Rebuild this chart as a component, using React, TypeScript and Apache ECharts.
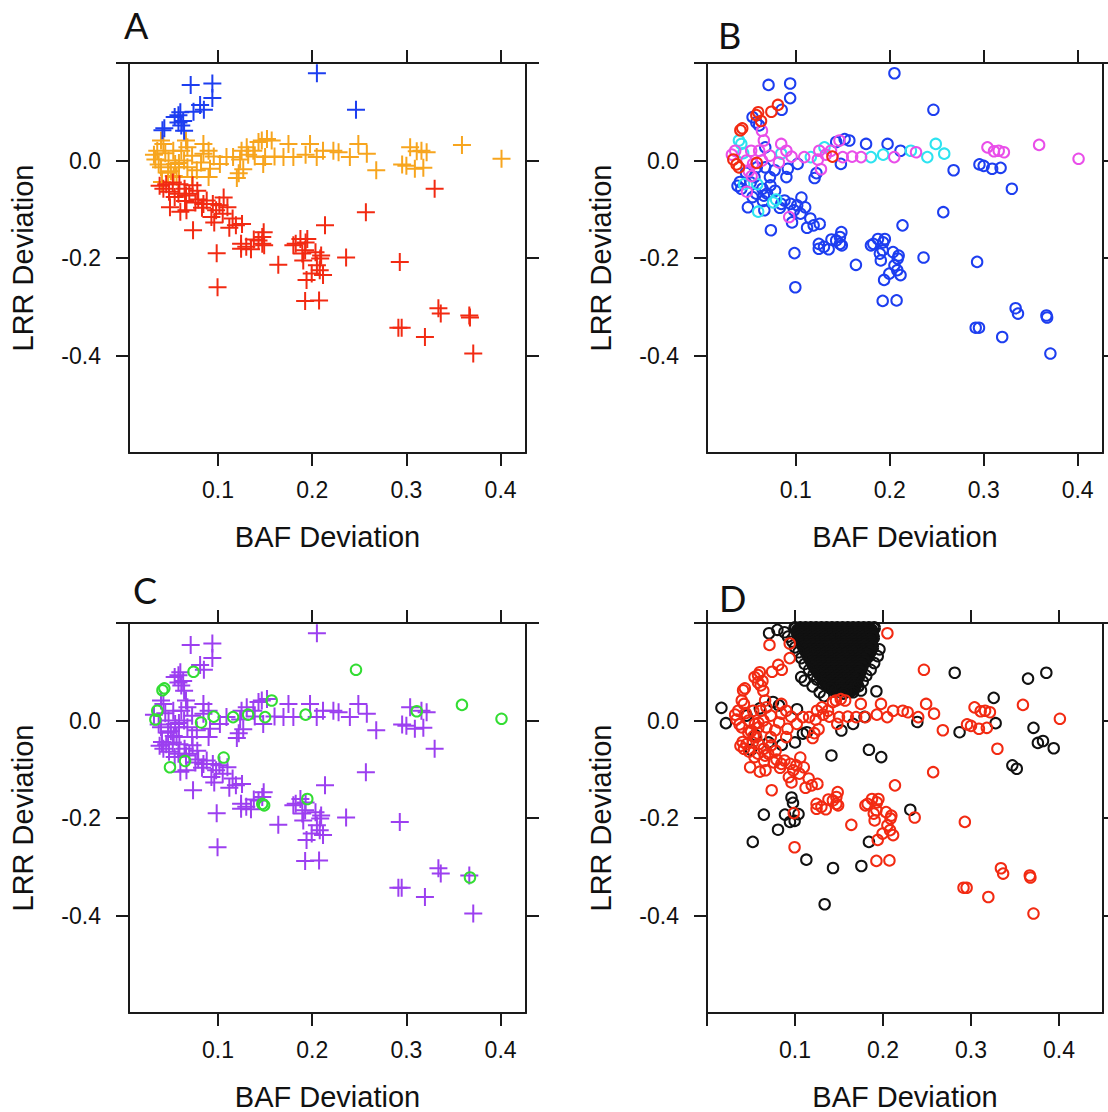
import React, { useEffect, useRef } from "react";
import * as echarts from "echarts";

// Each point: [BAF deviation, LRR deviation, panel-B class, panel-C class]
// Panel A groups: gain (blue), neutral (orange), loss (red)
const gainPoints: [number, number, string, string][] = [
  [0.205, 0.179, "b", "p"], [0.2465, 0.104, "b", "g"], [0.071, 0.155, "b", "p"],
  [0.094, 0.158, "b", "p"], [0.094, 0.128, "b", "p"], [0.081, 0.114, "r", "p"],
  [0.085, 0.104, "b", "p"], [0.074, 0.1, "r", "g"], [0.06, 0.099, "r", "p"],
  [0.058, 0.093, "r", "p"], [0.063, 0.081, "r", "p"], [0.061, 0.072, "b", "p"],
  [0.064, 0.061, "m", "p"], [0.043, 0.066, "r", "g"], [0.041, 0.062, "r", "g"],
  [0.054, 0.089, "b", "p"], [0.058, 0.078, "b", "p"],
];

const neutralPoints: [number, number, string, string][] = [
  [0.401, 0.0035, "m", "g"], [0.359, 0.032, "m", "g"], [0.3215, 0.017, "m", "p"],
  [0.316, 0.02, "m", "p"], [0.311, 0.019, "m", "g"], [0.304, 0.027, "m", "p"],
  [0.309, -0.017, "b", "p"], [0.3, -0.011, "b", "p"], [0.2955, -0.008, "b", "p"],
  [0.318, -0.015, "b", "p"], [0.268, -0.02, "b", "p"], [0.258, 0.014, "c", "p"],
  [0.249, 0.034, "c", "p"], [0.24, 0.007, "c", "p"], [0.228, 0.017, "m", "p"],
  [0.2225, 0.02, "c", "p"], [0.2115, 0.02, "b", "p"], [0.2048, 0.007, "m", "p"],
  [0.1977, 0.034, "b", "p"], [0.193, 0.012, "c", "g"], [0.18, 0.007, "c", "p"],
  [0.1748, 0.034, "b", "p"], [0.1695, 0.007, "m", "p"], [0.16, 0.008, "m", "p"],
  [0.157, 0.041, "b", "g"], [0.152, 0.044, "b", "p"], [0.1465, 0.041, "m", "p"],
  [0.143, 0.038, "b", "p"], [0.15, 0.007, "m", "g"], [0.148, -0.007, "b", "p"],
  [0.139, 0.008, "r", "p"], [0.1375, 0.02, "m", "p"], [0.1305, 0.027, "c", "p"],
  [0.132, 0.012, "m", "g"], [0.125, 0.02, "m", "p"], [0.1235, 0.002, "m", "p"],
  [0.116, 0.007, "c", "g"], [0.1268, -0.018, "m", "p"], [0.122, -0.026, "b", "p"],
  [0.12, -0.036, "b", "p"], [0.109, 0.007, "m", "p"], [0.0955, 0.008, "m", "g"],
  [0.09, 0.02, "m", "p"], [0.0845, 0.034, "m", "p"], [0.0845, 0.014, "c", "p"],
  [0.082, -0.004, "m", "g"], [0.0775, -0.02, "b", "p"], [0.09, -0.034, "b", "p"],
  [0.0725, 0.01, "m", "p"], [0.0675, 0.027, "b", "p"], [0.066, 0.041, "m", "p"],
  [0.061, 0.02, "m", "p"], [0.0585, -0.005, "r", "p"], [0.0545, -0.007, "m", "p"],
  [0.05, -0.022, "m", "p"], [0.053, -0.032, "m", "p"], [0.0405, -0.044, "b", "p"],
  [0.0355, 0.02, "m", "g"], [0.0335, 0.002, "r", "g"], [0.037, -0.008, "r", "p"],
  [0.042, 0.034, "c", "p"], [0.0395, 0.041, "c", "p"], [0.044, 0.015, "c", "p"],
  [0.0475, 0.0, "m", "p"], [0.0395, -0.014, "r", "p"], [0.056, -0.034, "b", "p"],
  [0.0675, -0.014, "b", "p"], [0.064, 0.0, "m", "p"], [0.0725, -0.034, "b", "p"],
  [0.0915, -0.017, "b", "p"], [0.102, -0.007, "b", "p"], [0.032, 0.012, "m", "p"],
  [0.0525, 0.02, "m", "p"], [0.0585, -0.014, "b", "p"], [0.047, -0.025, "b", "p"],
];

const lossPoints: [number, number, string, string][] = [
  [0.33, -0.058, "b", "p"], [0.257, -0.106, "b", "p"], [0.2136, -0.133, "b", "p"],
  [0.293, -0.208, "b", "p"], [0.236, -0.199, "b", "p"], [0.0986, -0.19, "b", "p"],
  [0.0735, -0.143, "b", "p"], [0.042, -0.058, "b", "p"], [0.048, -0.064, "m", "p"],
  [0.054, -0.075, "b", "p"], [0.058, -0.068, "b", "p"], [0.0645, -0.058, "b", "p"],
  [0.0695, -0.068, "b", "p"], [0.073, -0.051, "b", "p"], [0.078, -0.062, "b", "p"],
  [0.079, -0.08, "c", "p"], [0.076, -0.086, "c", "p"], [0.0845, -0.089, "b", "p"],
  [0.088, -0.082, "b", "p"], [0.0945, -0.089, "b", "p"], [0.098, -0.102, "b", "p"],
  [0.1015, -0.092, "b", "p"], [0.106, -0.076, "b", "g"], [0.105, -0.109, "b", "p"],
  [0.093, -0.116, "m", "p"], [0.096, -0.127, "b", "p"], [0.049, -0.096, "b", "g"],
  [0.06, -0.105, "c", "p"], [0.0665, -0.102, "b", "p"], [0.045, -0.0485, "c", "p"],
  [0.059, -0.0485, "c", "p"], [0.065, -0.083, "b", "g"], [0.1155, -0.119, "b", "p"],
  [0.119, -0.133, "b", "p"], [0.1255, -0.13, "b", "p"], [0.1485, -0.147, "b", "p"],
  [0.147, -0.171, "b", "g"], [0.149, -0.174, "b", "g"], [0.143, -0.164, "b", "p"],
  [0.1245, -0.171, "b", "p"], [0.1245, -0.181, "b", "p"], [0.13, -0.177, "b", "p"],
  [0.147, -0.157, "b", "p"], [0.164, -0.214, "b", "p"], [0.1825, -0.171, "b", "p"],
  [0.1875, -0.161, "b", "p"], [0.193, -0.168, "b", "p"], [0.1948, -0.161, "b", "g"],
  [0.18, -0.174, "b", "p"], [0.2035, -0.188, "b", "p"], [0.2085, -0.201, "b", "p"],
  [0.1895, -0.191, "b", "p"], [0.205, -0.215, "b", "p"], [0.1925, -0.184, "b", "p"],
  [0.1905, -0.205, "b", "p"], [0.194, -0.245, "b", "p"], [0.1925, -0.288, "b", "p"],
  [0.2073, -0.287, "b", "p"], [0.208, -0.225, "b", "p"], [0.2115, -0.235, "b", "p"],
  [0.2095, -0.195, "b", "p"], [0.1995, -0.232, "b", "p"], [0.0995, -0.26, "b", "p"],
  [0.334, -0.303, "b", "p"], [0.3365, -0.314, "b", "p"], [0.2915, -0.343, "b", "p"],
  [0.295, -0.343, "b", "p"], [0.3197, -0.362, "b", "p"], [0.3668, -0.318, "b", "p"],
  [0.3675, -0.322, "b", "g"], [0.371, -0.396, "b", "p"], [0.038, -0.052, "b", "p"],
  [0.052, -0.045, "b", "p"], [0.066, -0.072, "b", "p"], [0.083, -0.097, "b", "p"],
  [0.11, -0.096, "b", "p"], [0.112, -0.138, "b", "p"], [0.138, -0.162, "b", "p"],
  [0.135, -0.182, "b", "p"],
];

// Panel D black (reference) samples: scattered ones
const dBlackScattered: [number, number][] = [
  [0.0164, 0.026], [0.0215, -0.0055], [0.0705, 0.179], [0.075, 0.038], [0.0818, 0.031],
  [0.1023, 0.023], [0.109, -0.027], [0.1135, -0.024], [0.111, 0.082], [0.107, 0.089],
  [0.128, 0.058], [0.1527, -0.0205], [0.166, -0.007], [0.179, 0.0075], [0.1925, 0.06],
  [0.175, 0.0615], [0.1414, -0.0717], [0.184, -0.06], [0.198, -0.075], [0.239, -0.003],
  [0.2815, 0.098], [0.287, -0.024], [0.3258, 0.0465], [0.328, -0.0055], [0.3648, 0.086],
  [0.3856, 0.098], [0.371, -0.015], [0.376, -0.046], [0.3818, -0.042], [0.394, -0.057],
  [0.347, -0.092], [0.352, -0.099], [0.0646, -0.193], [0.096, -0.158], [0.0977, -0.169],
  [0.104, -0.192], [0.231, -0.183], [0.0886, -0.193], [0.0943, -0.208], [0.0996, -0.206],
  [0.0807, -0.224], [0.052, -0.249], [0.1129, -0.2855], [0.1432, -0.3026], [0.1754, -0.2985],
  [0.184, -0.249], [0.1337, -0.377], [0.045, 0.01], [0.055, -0.03], [0.06, 0.025],
  [0.07, -0.045], [0.05, -0.06], [0.085, -0.05], [0.1, -0.045],
  [0.08, 0.186], [0.088, 0.181], [0.092, 0.172], [0.097, 0.162], [0.1, 0.15],
  [0.104, 0.14], [0.107, 0.128], [0.111, 0.116], [0.116, 0.104], [0.121, 0.094],
  [0.125, 0.084], [0.132, 0.075], [0.14, 0.066], [0.196, 0.146], [0.194, 0.132],
  [0.19, 0.118], [0.186, 0.104], [0.181, 0.092], [0.177, 0.08], [0.172, 0.07],
  [0.166, 0.058], [0.155, 0.055], [0.12, 0.07], [0.133, 0.05],
];

// Panel D black dense core: [LRR, list of BAF values]
const dBlackCoreRows: [number, number[]][] = [
  [0.19, [0.1, 0.106, 0.112, 0.118, 0.124, 0.13, 0.136, 0.142, 0.148, 0.154, 0.16, 0.166, 0.172, 0.178, 0.184, 0.19]],
  [0.185, [0.103, 0.109, 0.115, 0.121, 0.127, 0.133, 0.139, 0.145, 0.151, 0.157, 0.163, 0.169, 0.175, 0.181, 0.187]],
  [0.18, [0.103, 0.109, 0.115, 0.121, 0.127, 0.133, 0.139, 0.145, 0.151, 0.157, 0.163, 0.169, 0.175, 0.181, 0.187]],
  [0.175, [0.104, 0.11, 0.116, 0.122, 0.128, 0.134, 0.14, 0.146, 0.152, 0.158, 0.164, 0.17, 0.176, 0.182, 0.188]],
  [0.17, [0.105, 0.111, 0.117, 0.123, 0.129, 0.135, 0.141, 0.147, 0.153, 0.159, 0.165, 0.171, 0.177, 0.183, 0.189]],
  [0.165, [0.107, 0.113, 0.119, 0.125, 0.131, 0.137, 0.143, 0.149, 0.155, 0.161, 0.167, 0.173, 0.179, 0.185]],
  [0.16, [0.108, 0.114, 0.12, 0.126, 0.132, 0.138, 0.144, 0.15, 0.156, 0.162, 0.168, 0.174, 0.18, 0.186]],
  [0.155, [0.109, 0.115, 0.121, 0.127, 0.133, 0.139, 0.145, 0.151, 0.157, 0.163, 0.169, 0.175, 0.181, 0.187]],
  [0.15, [0.11, 0.116, 0.122, 0.128, 0.134, 0.14, 0.146, 0.152, 0.158, 0.164, 0.17, 0.176, 0.182, 0.188]],
  [0.145, [0.112, 0.118, 0.124, 0.13, 0.136, 0.142, 0.148, 0.154, 0.16, 0.166, 0.172, 0.178, 0.184]],
  [0.14, [0.113, 0.119, 0.125, 0.131, 0.137, 0.143, 0.149, 0.155, 0.161, 0.167, 0.173, 0.179, 0.185]],
  [0.135, [0.115, 0.121, 0.127, 0.133, 0.139, 0.145, 0.151, 0.157, 0.163, 0.169, 0.175, 0.181]],
  [0.13, [0.116, 0.122, 0.128, 0.134, 0.14, 0.146, 0.152, 0.158, 0.164, 0.17, 0.176, 0.182]],
  [0.125, [0.118, 0.124, 0.13, 0.136, 0.142, 0.148, 0.154, 0.16, 0.166, 0.172, 0.178]],
  [0.12, [0.119, 0.125, 0.131, 0.137, 0.143, 0.149, 0.155, 0.161, 0.167, 0.173, 0.179]],
  [0.115, [0.121, 0.127, 0.133, 0.139, 0.145, 0.151, 0.157, 0.163, 0.169, 0.175]],
  [0.11, [0.122, 0.128, 0.134, 0.14, 0.146, 0.152, 0.158, 0.164, 0.17, 0.176]],
  [0.105, [0.124, 0.13, 0.136, 0.142, 0.148, 0.154, 0.16, 0.166, 0.172]],
  [0.1, [0.126, 0.132, 0.138, 0.144, 0.15, 0.156, 0.162, 0.168, 0.174]],
  [0.095, [0.128, 0.134, 0.14, 0.146, 0.152, 0.158, 0.164, 0.17]],
  [0.09, [0.13, 0.136, 0.142, 0.148, 0.154, 0.16, 0.166, 0.172]],
  [0.085, [0.132, 0.138, 0.144, 0.15, 0.156, 0.162, 0.168]],
  [0.08, [0.134, 0.14, 0.146, 0.152, 0.158, 0.164, 0.17]],
  [0.075, [0.137, 0.143, 0.149, 0.155, 0.161, 0.167]],
  [0.07, [0.139, 0.145, 0.151, 0.157, 0.163, 0.168]],
  [0.065, [0.143, 0.149, 0.155, 0.161, 0.166]],
  [0.06, [0.146, 0.152, 0.158, 0.163]],
];

const xTicks = [0.1, 0.2, 0.3, 0.4];
const xTicksD = [0, 0.1, 0.2, 0.3, 0.4];
const yTicks = [-0.4, -0.2, 0, 0.2];
const yLabels = [-0.4, -0.2, 0];

const COLORS = {
  blue: "#1d3ef0", orange: "#f7a51e", red: "#f22a12", cyan: "#2de3f0",
  magenta: "#e94ee9", purple: "#9c3ff0", green: "#33dd33", black: "#111111",
};

const FONT = "'Liberation Sans', Arial, Helvetica, sans-serif";
const PLUS = "path://M0,9L18,9M9,0L9,18";
const AXIS_LINE = { color: "#1a1a1a", width: 2 };

const PANELS = [
  { left: 129, top: 63, width: 397, letter: "A", lx: 124, ly: 25 },
  { left: 707, top: 63, width: 396, letter: "B", lx: 718, ly: 35 },
  { left: 129, top: 623, width: 397, letter: "C", lx: 133, ly: 590 },
  { left: 707, top: 623, width: 396, letter: "D", lx: 719, ly: 598 },
];
const PH = 390;

function scatter(data: number[][], panel: number, color: string, plus: boolean, bw = 2) {
  return {
    type: "scatter",
    xAxisIndex: panel * 2,
    yAxisIndex: panel * 2,
    data,
    symbol: plus ? PLUS : "circle",
    symbolSize: plus ? 18 : 10.5,
    itemStyle: { color: "transparent", borderColor: color, borderWidth: bw, opacity: 1 },
    emphasis: { disabled: true },
    silent: true,
  };
}

function xAxes(panel: number, min: number, max: number, ticks: number[]) {
  const base = {
    gridIndex: panel, type: "value", min, max,
    splitLine: { show: false },
    axisLine: { show: true, onZero: false, lineStyle: AXIS_LINE },
    axisTick: { show: true, length: 13, inside: false, customValues: ticks, lineStyle: AXIS_LINE },
  };
  return [
    {
      ...base, position: "bottom",
      axisLabel: {
        show: true, customValues: xTicks, margin: 25, fontSize: 23, fontFamily: FONT,
        color: "#111", formatter: (v: number) => v.toFixed(1),
      },
    },
    { ...base, position: "top", axisLabel: { show: false } },
  ];
}

function yAxes(panel: number) {
  const base = {
    gridIndex: panel, type: "value", min: -0.6, max: 0.2,
    splitLine: { show: false },
    axisLine: { show: true, onZero: false, lineStyle: AXIS_LINE },
    axisTick: { show: true, length: 13, inside: false, customValues: yTicks, lineStyle: AXIS_LINE },
  };
  return [
    {
      ...base, position: "left",
      axisLabel: {
        show: true, customValues: yLabels, margin: 28, fontSize: 23, fontFamily: FONT,
        color: "#111", formatter: (v: number) => v.toFixed(1),
      },
    },
    { ...base, position: "right", axisLabel: { show: false } },
  ];
}

export default function App() {
  const ref = useRef<HTMLDivElement>(null);
  useEffect(() => {
    if (!ref.current) return;
    const chart = echarts.init(ref.current, undefined, { renderer: "svg" });
    const all = [...gainPoints, ...neutralPoints, ...lossPoints];
    const xy = (arr: [number, number, string, string][]) => arr.map((p) => [p[0], p[1]]);
    const byB = (c: string) => all.filter((p) => p[2] === c).map((p) => [p[0], p[1]]);
    const byC = (c: string) => all.filter((p) => p[3] === c).map((p) => [p[0], p[1]]);
    const core: number[][] = [];
    dBlackCoreRows.forEach(([y, xs]) => xs.forEach((x) => core.push([x, y])));
    const scatteredD = dBlackScattered.map((p) => [p[0], p[1]]);

    const graphics: any[] = [];
    PANELS.forEach((p) => {
      graphics.push({
        type: "text", x: p.lx, y: p.ly,
        style: { text: p.letter, fontSize: 36, fontFamily: "Lato, 'Open Sans', sans-serif", fill: "#111", align: "left", verticalAlign: "middle" },
      });
      graphics.push({
        type: "text", x: p.left + p.width / 2, y: p.top + 474,
        style: { text: "BAF Deviation", fontSize: 29, fontFamily: FONT, fill: "#111", align: "center", verticalAlign: "middle" },
      });
      graphics.push({
        type: "text", x: p.left - 106, y: p.top + PH / 2, rotation: Math.PI / 2,
        style: { text: "LRR Deviation", fontSize: 29, fontFamily: FONT, fill: "#111", align: "center", verticalAlign: "middle" },
      });
    });

    chart.setOption({
      animation: false,
      backgroundColor: "#ffffff",
      grid: PANELS.map((p) => ({ left: p.left, top: p.top, width: p.width, height: PH })),
      xAxis: [
        ...xAxes(0, 0.0055, 0.427, xTicks),
        ...xAxes(1, 0.0055, 0.427, xTicks),
        ...xAxes(2, 0.0055, 0.427, xTicks),
        ...xAxes(3, 0, 0.45, xTicksD),
      ],
      yAxis: [...yAxes(0), ...yAxes(1), ...yAxes(2), ...yAxes(3)],
      graphic: { elements: graphics },
      series: [
        scatter(xy(neutralPoints), 0, COLORS.orange, true),
        scatter(xy(lossPoints), 0, COLORS.red, true),
        scatter(xy(gainPoints), 0, COLORS.blue, true),
        scatter(byB("b"), 1, COLORS.blue, false),
        scatter(byB("c"), 1, COLORS.cyan, false),
        scatter(byB("m"), 1, COLORS.magenta, false),
        scatter(byB("r"), 1, COLORS.red, false),
        scatter(byC("p"), 2, COLORS.purple, true),
        scatter(byC("g"), 2, COLORS.green, false),
        scatter(core, 3, COLORS.black, false, 3),
        scatter(scatteredD, 3, COLORS.black, false),
        scatter(xy(all), 3, COLORS.red, false),
      ],
    });
    return () => chart.dispose();
  }, []);
  return (
    <div
      ref={ref}
      style={{ position: "absolute", left: 0, top: 0, width: 1108, height: 1112, background: "#fff" }}
    />
  );
}
